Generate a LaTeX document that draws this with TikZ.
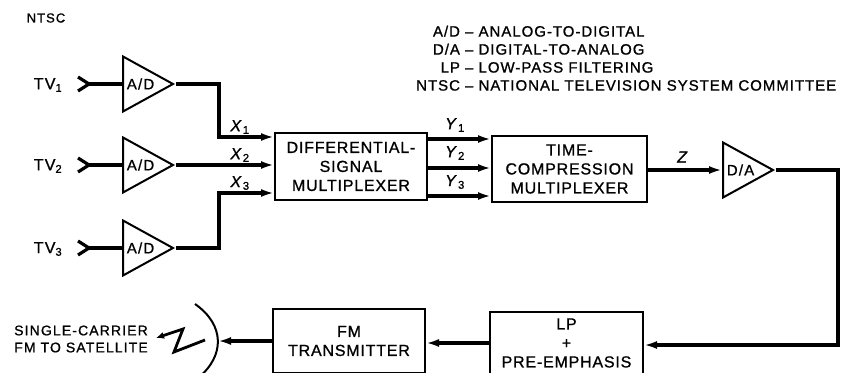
\documentclass[tikz,border=0pt]{standalone}
\usepackage{fontspec}
\setmainfont{Liberation Sans}[LetterSpace=8, FakeBold=1]
\usepackage{tikz}
\usetikzlibrary{positioning,arrows.meta,shapes.geometric}

\tikzset{
  block/.style={draw, line width=2pt, align=center, inner sep=2pt,
    font=\fontsize{16}{19}\selectfont\addfontfeature{LetterSpace=5}},
  amp/.style={draw, line width=2pt, isosceles triangle,
    isosceles triangle stretches, minimum width=55pt, minimum height=50pt,
    inner sep=1pt, font=\fontsize{15}{17}\selectfont},
  sig/.style={line width=3.2pt},
  arr/.style={sig, -{Latex[length=13pt,width=8pt]}},
  lbl/.style={font=\fontsize{16}{18}\selectfont},
  sym/.style={font=\fontsize{16}{18}\selectfont, inner sep=0pt}
}

\begin{document}
\begin{tikzpicture}[x=1pt, y=-1pt]
  \useasboundingbox (0,0) rectangle (843,372);

  % Inputs and A/D converters
  \node[font=\fontsize{13}{15}\selectfont] (ntsc) at (46,18) {NTSC};
  \foreach \i/\y in {1/84,2/165,3/248} {
    \node[lbl] (tv\i) at (48,\y+1) {TV\textsubscript{\i}};
    \coordinate (in\i) at (89,\y);
    \draw[sig] (in\i) ++(-11,-7) -- (in\i) -- ++(-11,7);
    \node[amp, anchor=west] (ad\i) at (122,\y) {A/D};
    \draw[sig] (in\i) -- (ad\i.west);
  }

  % Differential-signal multiplexer
  \node[block, minimum width=152pt, minimum height=67pt] (dsm) at (351,166.5)
    {DIFFERENTIAL-\\SIGNAL\\MULTIPLEXER};
  \coordinate (bend1) at (219,137);
  \coordinate (bend3) at (219,193);
  \draw[arr] (ad1.apex) -| (bend1) -- (bend1 -| dsm.west);
  \draw[arr] (ad2.apex) -- (ad2.apex -| dsm.west);
  \draw[arr] (ad3.apex) -| (bend3) -- (bend3 -| dsm.west);
  \foreach \i/\y in {1/127,2/155,3/183}
    \node[sym] (xlab\i) at (240,\y) {\textit{X}\textsubscript{\i}};

  % Time-compression multiplexer
  \node[block, minimum width=155pt, minimum height=66pt] (tcm) at (569.5,169)
    {TIME-\\COMPRESSION\\MULTIPLEXER};
  \foreach \i/\y in {1/139,2/168,3/196} {
    \coordinate (ylev\i) at (460,\y);
    \draw[arr] (ylev\i -| dsm.east) -- (ylev\i -| tcm.west);
  }
  \foreach \i/\y in {1/125,2/153,3/182}
    \node[sym] (ylab\i) at (455,\y) {\textit{Y}\textsubscript{\i}};

  % D/A converter
  \node[amp, anchor=west] (da) at (722,170) {D/A};
  \draw[arr] (tcm.east |- da.west) -- (da.west);
  \node[sym] (zlab) at (683,157) {\textit{Z}};

  % Legend
  \node[anchor=west, inner sep=0pt,
    font=\fontsize{15}{18}\selectfont\addfontfeature{LetterSpace=6.5}] (legend) at (416,60)
    {\begin{tabular}{@{}r@{\ –\ }l@{}}
      A/D & ANALOG-TO-DIGITAL\\
      D/A & DIGITAL-TO-ANALOG\\
      LP & LOW-PASS FILTERING\\
      NTSC & NATIONAL TELEVISION SYSTEM COMMITTEE
    \end{tabular}};

  % Output chain
  \node[block, minimum width=153pt, minimum height=62pt] (lp) at (566.5,343)
    {LP\\+\\PRE-EMPHASIS};
  \node[block, minimum width=152pt, minimum height=64pt] (fm) at (349,341)
    {FM\\TRANSMITTER};
  \coordinate (rt) at (838,345);
  \draw[arr] (da.apex) -| (rt) -- (rt -| lp.east);
  \draw[arr] (lp.west) -- (lp.west -| fm.east);
  \coordinate (dish) at (218,341);
  \draw[arr] (fm.west) -- (dish);

  % Antenna
  \draw[line width=2pt] (195,304) .. controls (225,325) and (225,356) .. (198,378);
  \coordinate (bolt) at (205,340);
  \draw[line width=2.8pt, -{Latex[length=8pt,width=7pt]}]
    (bolt) -- (174,352) -- (183,329) -- (156,338);
  \node[align=center, font=\fontsize{14}{17}\selectfont] (sat) at (81,339)
    {SINGLE-CARRIER\\FM TO SATELLITE};
\end{tikzpicture}
\end{document}
